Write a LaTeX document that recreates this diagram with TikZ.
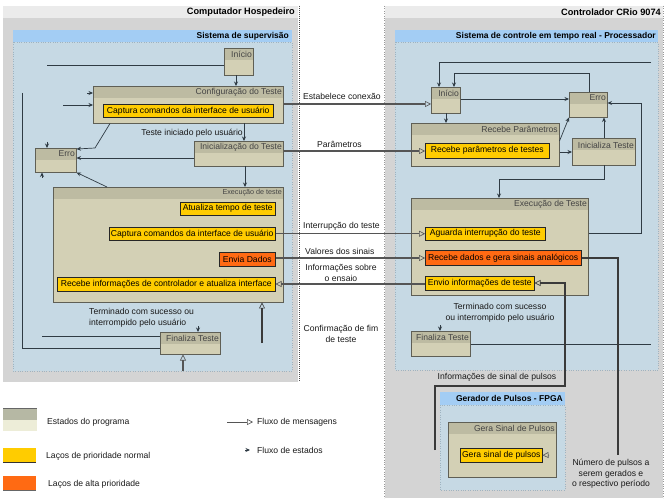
\documentclass[tikz,border=0pt]{standalone}
\usepackage{fontspec}
\setmainfont{Liberation Sans}
\usetikzlibrary{arrows.meta,calc}
\definecolor{panelgray}{HTML}{D4D4D4}
\definecolor{bandgray}{HTML}{EBEBEB}
\definecolor{bluehead}{HTML}{A3CDF4}
\definecolor{bluebody}{HTML}{C6D9E4}
\definecolor{blueedge}{HTML}{9FB3C0}
\definecolor{sthead}{HTML}{BDBBA2}
\definecolor{stbody}{HTML}{D3D0B5}
\definecolor{stedge}{HTML}{5F5F55}
\definecolor{yel}{HTML}{FFCC00}
\definecolor{org}{HTML}{FF6A13}
\definecolor{flowc}{HTML}{2F3B44}
\definecolor{msgc}{HTML}{555555}
\definecolor{thickc}{HTML}{3A3A3A}
\definecolor{txtgray}{HTML}{444444}
\definecolor{legst}{HTML}{B6B8A4}
\definecolor{legbody}{HTML}{EDEDD8}
\newcommand{\lbl}{\fontsize{8.6}{10.5}\selectfont}
\newcommand{\stf}{\fontsize{8.6}{10}\selectfont}
\newcommand{\ttl}{\fontsize{8.5}{10}\selectfont\bfseries}
\begin{document}
\begin{tikzpicture}[x=1pt,y=-1pt,
  st/.style={draw=stedge, line width=0.5pt, fill=stbody, anchor=north west, inner sep=0pt,
    path picture={\fill[sthead] (path picture bounding box.north west) rectangle ([yshift=-12pt]path picture bounding box.north east);}},
  sttitle/.style={anchor=east, font=\stf, text=txtgray, inner sep=1.5pt},
  loopy/.style={draw=black!85, line width=0.5pt, fill=yel, anchor=north west, inner sep=0pt, font=\lbl, text=black},
  loopo/.style={loopy, fill=org},
  lab/.style={font=\lbl, text=black!90, inner sep=0pt},
  plain/.style={draw=flowc, line width=0.7pt},
  flow/.style={plain, -{Stealth[length=4.5pt,width=4pt]}},
  msg/.style={draw=msgc, line width=1.1pt, -{Triangle[open,length=6pt,width=6pt,line width=0.6pt]}},
  msgthick/.style={draw=thickc, line width=1.5pt, -{Triangle[open,length=6pt,width=6pt,line width=0.6pt]}},
  thickln/.style={draw=thickc, line width=1.5pt}
]
\useasboundingbox (0,0) rectangle (666,502);
% ---------- panels ----------
\fill[bandgray] (3,6) rectangle (298,18);
\fill[panelgray] (3,18) rectangle (298,382);
\node[anchor=east, font=\fontsize{9.2}{11}\selectfont\bfseries, inner sep=0pt] (tL) at (295,12) {Computador Hospedeiro};
\draw[black!70, dash pattern=on 1pt off 1pt, line width=0.6pt] (299,6) -- (299,382);
\fill[bluehead] (13,30) rectangle (292,42);
\draw[blueedge, fill=bluebody, dotted] (13,42) rectangle (292,371);
\node[anchor=east, font=\ttl, inner sep=0pt] (tLs) at (289,36) {Sistema de supervisão};

\fill[bandgray] (385,6) rectangle (663,18);
\fill[panelgray] (385,18) rectangle (663,498);
\draw[black!40, dotted] (384,6) -- (384,498);
\draw[black!40, dotted] (663,6) -- (663,498);
\node[anchor=east, font=\fontsize{9.2}{11}\selectfont\bfseries, inner sep=0pt] (tR) at (661,12) {Controlador CRio 9074};
\fill[bluehead] (395,30) rectangle (658,42);
\draw[blueedge, fill=bluebody, dotted] (395,42) rectangle (658,370);
\node[anchor=east, font=\ttl, inner sep=0pt] (tRs) at (656,36) {Sistema de controle em tempo real - Processador};
\fill[bluehead] (440,392) rectangle (565,405);
\draw[blueedge, fill=bluebody, dotted] (440,405) rectangle (565,490);
\node[anchor=east, font=\ttl, inner sep=0pt] (tF) at (563,398) {Gerador de Pulsos - FPGA};

% ---------- left states ----------
\node[st, minimum width=29pt, minimum height=27pt] (iniL) at (224,48) {};
\node[sttitle] (iniLt) at ([yshift=-6pt]iniL.north east) {Início};
\node[st, minimum width=190pt, minimum height=37pt] (cfg) at (93,86) {};
\node[sttitle] (cfgt) at ([yshift=-6pt]cfg.north east) {Configuração do Teste};
\node[loopy, minimum width=170pt, minimum height=13pt] (cap1) at (103,104) {Captura comandos da interface de usuário};
\node[st, minimum width=89pt, minimum height=25pt] (inicL) at (194,141) {};
\node[sttitle] (inicLt) at ([yshift=-6pt]inicL.north east) {Inicialização do Teste};
\node[st, minimum width=41pt, minimum height=24pt] (erroL) at (35,148) {};
\node[sttitle] (erroLt) at ([yshift=-6pt]erroL.north east) {Erro};
\node[st, minimum width=230pt, minimum height=115pt] (exeL) at (53,187) {};
\node[sttitle, font=\fontsize{7.2}{8}\selectfont] (exeLt) at ([yshift=-6pt]exeL.north east) {Execução de teste};
\node[loopy, minimum width=95pt, minimum height=13pt] (atu) at (180,202) {Atualiza tempo de teste};
\node[loopy, minimum width=166pt, minimum height=13pt] (cap2) at (109,227) {Captura comandos da interface de usuário};
\node[loopo, minimum width=56pt, minimum height=14pt] (envD) at (219,252) {Envia Dados};
\node[loopy, minimum width=218pt, minimum height=14pt] (rec) at (57,277) {Recebe informações de controlador e atualiza interface};
\node[st, minimum width=60pt, minimum height=22pt] (finL) at (160,332) {};
\node[sttitle] (finLt) at ([yshift=-6pt]finL.north east) {Finaliza Teste};

% ---------- right states ----------
\node[st, minimum width=29pt, minimum height=26pt] (iniR) at (431,87) {};
\node[sttitle] (iniRt) at ([yshift=-6pt]iniR.north east) {Início};
\node[st, minimum width=38pt, minimum height=25pt] (erroR) at (569,92) {};
\node[sttitle] (erroRt) at ([yshift=-6pt]erroR.north east) {Erro};
\node[st, minimum width=148pt, minimum height=43pt] (recP) at (411,123) {};
\node[sttitle] (recPt) at ([yshift=-6pt]recP.north east) {Recebe Parâmetros};
\node[loopy, minimum width=124pt, minimum height=15pt] (recp) at (425,143) {Recebe parâmetros de testes};
\node[st, minimum width=63pt, minimum height=27pt] (inicR) at (572,138) {};
\node[sttitle] (inicRt) at ([yshift=-7pt]inicR.north east) {Inicializa Teste};
\node[st, minimum width=177pt, minimum height=97pt] (exeR) at (411,198) {};
\node[sttitle] (exeRt) at ([yshift=-6pt]exeR.north east) {Execução de Teste};
\node[loopy, minimum width=120pt, minimum height=13pt] (agu) at (425,227) {Aguarda interrupção do teste};
\node[loopo, minimum width=156pt, minimum height=15pt] (recD) at (425,250) {Recebe dados e gera sinais analógicos};
\node[loopy, minimum width=109pt, minimum height=14pt] (envI) at (425,276) {Envio informações de teste};
\node[st, minimum width=59pt, minimum height=25pt] (finR) at (411,331) {};
\node[sttitle] (finRt) at ([yshift=-6pt]finR.north east) {Finaliza Teste};
\node[st, minimum width=108pt, minimum height=55pt] (gera) at (448,422) {};
\node[sttitle] (gerat) at ([yshift=-6pt]gera.north east) {Gera Sinal de Pulsos};
\node[loopy, minimum width=82pt, minimum height=14pt] (geraL) at (460,448) {Gera sinal de pulsos};

% ---------- left flows ----------
\coordinate (lA) at (47,65);
\draw[plain] (lA) -- (lA -| iniL.west);
\draw[flow] (iniL.south -| 236,0) -- (cfg.north -| 236,0);
\draw[flow] (87,93) -- (cfg.west |- 0,93);
\draw[flow] (63,105) -- (cfg.west |- 0,105);
\draw[plain] (22,93) -- (22,348) -- (finL.west |- 0,348);
\draw[plain] (42,336) -- (finL.west |- 0,336);
\draw[flow] (cfg.south -| 244,0) -- (inicL.north -| 244,0);
\draw[flow] (cfg.south -| 110,0) -- (95,148) -- (erroL.east |- 0,149);
\draw[flow] (inicL.west |- 0,158) -- (erroL.east |- 0,158);
\draw[flow] (exeL.north -| 107,0) -- (erroL.south east);
\draw[flow] (inicL.south -| 245,0) -- (exeL.north -| 245,0);
\draw[flow] (47,142) -- (erroL.north -| 47,0);
\draw[flow] (42,178) -- (erroL.south -| 42,0);
\draw[flow] (198,326) -- (finL.north -| 198,0);
\draw[msgthick] (262,343) -- (exeL.south -| 262,0);
\draw[msg] (183,371) -- (finL.south -| 183,0);

% ---------- messages ----------
\draw[msg] (cfg.east |- 0,104) -- (iniR.west |- 0,104);
\draw[msg] (inicL.east |- 0,151) -- (recp.west |- 0,151);
\draw[msg] (cap2.east) -- (agu.west);
\draw[msg] (envD.east |- 0,258) -- (recD.west |- 0,258);
\draw[msg] (envI.west |- 0,284) -- (rec.east |- 0,284);

% ---------- right flows ----------
\draw[flow] (651,62) -- (439,62) -- (iniR.north -| 439,0);
\draw[flow] (erroR.north -| 589,0) -- (589,73) -- (454,73) -- (iniR.north -| 454,0);
\draw[flow] (iniR.east |- 0,99) -- (erroR.west |- 0,99);
\draw[flow] (iniR.south -| 446,0) -- (recP.north -| 446,0);
\draw[flow] (recP.east |- 0,141) -- (erroR.south west);
\draw[flow] (recP.east |- 0,152) -- (inicR.west |- 0,152);
\draw[flow] (inicR.north -| 604,0) -- (erroR.south -| 604,0);
\draw[flow] (inicR.south -| 604,0) -- (604,179) -- (499,179) -- (exeR.north -| 499,0);
\draw[flow] (exeR.east |- 0,233) -- (641,233) -- (641,103) -- (erroR.east |- 0,103);
\draw[flow] (440,325) -- (finR.north -| 440,0);
\draw[plain] (finR.east |- 0,344) -- (651,344);
\draw[thickln] (recD.east |- 0,258) -- (618,258) -- (618,455);
\draw[msg] (549,455) -- (geraL.east);
\draw[msgthick] (435,450) -- (435,386) -- (565,386) -- (565,283) -- (envI.east |- 0,283);

% ---------- labels ----------
\node[lab, anchor=west] (m1) at (303,96) {Estabelece conexão};
\node[lab, anchor=west] (m2) at (317,144) {Parâmetros};
\node[lab, anchor=west] (m3) at (303,226) {Interrupção do teste};
\node[lab, anchor=west] (m4) at (305,251) {Valores dos sinais};
\node[lab, align=center] (m5) at (341,273) {Informações sobre\\o ensaio};
\node[lab, align=center] (m6) at (341,334) {Confirmação de fim\\de teste};
\node[lab, anchor=east] (l1) at (243,133) {Teste iniciado pelo usuário};
\node[lab, anchor=west, align=left] (l2) at (89,318) {Terminado com sucesso ou\\interrompido pelo usuário};
\node[lab, align=center] (r1) at (500,313) {Terminado com sucesso\\ou interrompido pelo usuário};
\node[lab] (r2) at (497,377) {Informações de sinal de pulsos};
\node[lab, align=center] (r3) at (611,474) {Número de pulsos a\\serem gerados e\\o respectivo período};

% ---------- legend ----------
\fill[legst] (3,408) rectangle (37,420);
\fill[legbody] (3,420) rectangle (37,431);
\draw[black!60] (3,408) -- (37,408);
\node[lab, anchor=west] (g1) at (47,422) {Estados do programa};
\fill[yel] (3,448) rectangle (36,462);
\draw[black!80] (3,462) -- (36,462);
\node[lab, anchor=west] (g2) at (46,456) {Laços de prioridade normal};
\fill[org] (3,476) rectangle (36,490);
\draw[black!60] (3,490) -- (36,490);
\node[lab, anchor=west] (g3) at (48,484) {Laços de alta prioridade};
\coordinate (gm1) at (227,422);
\coordinate (gm2) at (253,422);
\draw[msg, line width=0.8pt] (gm1) -- (gm2);
\node[lab, anchor=west] (g4) at (257,422) {Fluxo de mensagens};
\coordinate (gf1) at (245,450);
\coordinate (gf2) at (250,450);
\draw[flow] (gf1) -- (gf2);
\node[lab, anchor=west] (g5) at (257,450) {Fluxo de estados};
\end{tikzpicture}
\end{document}
